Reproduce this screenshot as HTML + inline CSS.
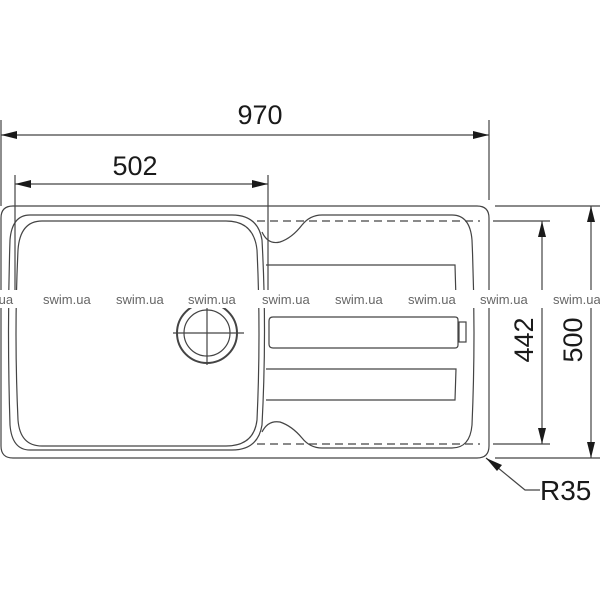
<!DOCTYPE html>
<html><head><style>
html,body{margin:0;padding:0;background:#fff;}
svg{display:block;}
text{font-family:"Liberation Sans",sans-serif;fill:#1a1a1a;}
.w{font-size:13px;fill:#666;}
</style></head><body>
<svg width="600" height="600" viewBox="0 0 600 600" xmlns="http://www.w3.org/2000/svg">
<g fill="none" stroke="#444" stroke-width="1.2">
<path d="M13 206 H477 Q489 206 489 218 V446 Q489 458 477 458 H13 Q1 458 1 446 V218 Q1 206 13 206 Z"/>
<line x1="1" y1="120" x2="1" y2="206"/>
<line x1="489" y1="120" x2="489" y2="200"/>
<line x1="15" y1="175" x2="15" y2="300"/>
<line x1="268" y1="175" x2="268" y2="300"/>
<line x1="1" y1="135" x2="489" y2="135"/>
<line x1="15" y1="184" x2="268" y2="184"/>
<line x1="495" y1="206" x2="600" y2="206"/>
<line x1="495" y1="458" x2="600" y2="458"/>
<line x1="542" y1="221" x2="542" y2="444"/>
<line x1="591" y1="206" x2="591" y2="458"/>
<line x1="257" y1="221" x2="480" y2="221" stroke-dasharray="8,5"/>
<line x1="257" y1="444" x2="480" y2="444" stroke-dasharray="8,5"/>
<line x1="493" y1="221" x2="550" y2="221"/>
<line x1="493" y1="444" x2="550" y2="444"/>
<path d="M30 215 H232 Q258 215 262 240 Q267 330 262 425 Q258 450 232 450 H30 Q12 450 10 425 Q7 330 10 240 Q12 215 30 215 Z"/>
<path d="M42 221 H226 Q254 221 257 250 Q261 333 257 420 Q254 446 226 446 H42 Q20 446 18 420 Q14 333 18 250 Q20 221 42 221 Z"/>
<path d="M262 232 Q268 245 280 242 Q292 238 302 225 Q310 215 322 215 H452 Q470 215 472 240 Q476 333 472 425 Q470 448 452 448 H322 Q310 448 302 438 Q292 426 280 422 Q268 420 262 432"/>
<path d="M266 265 H455 L456 300 H266"/>
<path d="M273 317 H455 Q458 317 458 320 V345 Q458 348 455 348 H273 Q269 348 269 344 V321 Q269 317 273 317 Z"/>
<rect x="459" y="322" width="7" height="20"/>
<path d="M266 369 H456 L455 400 H266"/>
<circle cx="207" cy="333" r="30" stroke-width="2"/>
<circle cx="207" cy="333" r="23"/>
<line x1="173" y1="333" x2="244" y2="333"/>
<line x1="207" y1="300" x2="207" y2="365"/>
<polyline points="486,458 525,490 540,490"/>
</g>
<g fill="#1a1a1a">
<polygon points="1,135 17,131 17,139"/>
<polygon points="489,135 473,131 473,139"/>
<polygon points="15,184 31,180 31,188"/>
<polygon points="268,184 252,180 252,188"/>
<polygon points="542,221 538,237 546,237"/>
<polygon points="542,444 538,428 546,428"/>
<polygon points="591,206 587,222 595,222"/>
<polygon points="591,458 587,442 595,442"/>
<polygon points="486,458 502,465 497,471"/>
</g>
<rect x="0" y="290" width="600" height="18" fill="#fff"/>
<g class="w">
<text x="-5" y="304" class="w">.ua</text>
<text x="43" y="304" class="w">swim.ua</text>
<text x="116" y="304" class="w">swim.ua</text>
<text x="188" y="304" class="w">swim.ua</text>
<text x="262" y="304" class="w">swim.ua</text>
<text x="335" y="304" class="w">swim.ua</text>
<text x="408" y="304" class="w">swim.ua</text>
<text x="480" y="304" class="w">swim.ua</text>
<text x="553" y="304" class="w">swim.ua</text>
</g>
<text x="260" y="124" font-size="27" text-anchor="middle">970</text>
<text x="135" y="175" font-size="27" text-anchor="middle">502</text>
<text x="0" y="0" font-size="27" text-anchor="middle" transform="translate(533,340) rotate(-90)">442</text>
<text x="0" y="0" font-size="27" text-anchor="middle" transform="translate(582,340) rotate(-90)">500</text>
<text x="540" y="500" font-size="28">R35</text>
</svg>
</body></html>
